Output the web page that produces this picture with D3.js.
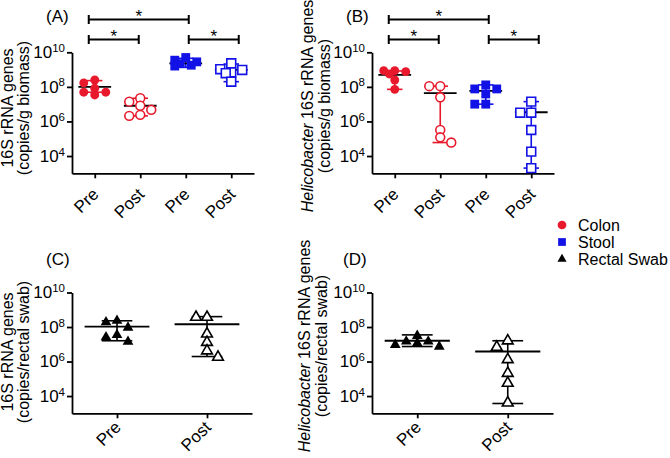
<!DOCTYPE html>
<html>
<head>
<meta charset="utf-8">
<script src="https://cdn.jsdelivr.net/npm/d3@7"></script>
<style>
  body { margin: 0; background: #fff; }
  svg { font-family: "Liberation Sans", Arial, sans-serif; }
</style>
</head>
<body>
<div id="plot"></div>
<script>
// ---------------- data ----------------
const catsAB = ["Pre", "Post", "Pre", "Post"];
const catsCD = ["Pre", "Post"];
const yTicks = [1e4, 1e6, 1e8, 1e10];

// (A) 16S rRNA, copies/g biomass
const aColonPre  = [2.5e8, 1.7e8, 8.3e7, 4.9e7, 4.9e7, 3.4e7];
const aColonPost = [2.2e7, 1.4e7, 8.1e6, 4.7e6, 2.4e6, 2.1e6];
const aStoolPre  = [5.0e9, 3.5e9, 2.8e9, 2.2e9, 1.8e9, 1.6e9];
const aStoolPost = [2.3e9, 1.05e9, 9.5e8, 6.9e8, 6.2e8, 2.0e8];
const aMedian = [1.0e8, 8.1e6, 2.3e9, 9.5e8];
const aLow    = [4.9e7, 2.1e6, 1.35e9, 2.0e8];
const aHigh   = [2.3e8, 2.2e7, 4.5e9, 2.1e9];

// (B) Helicobacter 16S rRNA, copies/g biomass
const bColonPre  = [8.7e8, 8.7e8, 7.6e8, 5.6e8, 2.5e8, 7.2e7];
const bColonPost = [1.1e8, 1.1e8, 2.5e7, 3.2e5, 1.2e5, 6.0e4];
const bStoolPre  = [1.3e8, 7.6e7, 7.6e7, 3.9e7, 1.0e7, 1.0e7];
const bStoolPost = [1.4e7, 3.2e6, 3.2e6, 3.2e5, 1.8e4, 2.0e3];
const bMedian = [4.9e8, 4.3e7, 5.8e7, 3.4e6];
const bLow    = [7.2e7, 6.0e4, 1.0e7, 2.0e3];
const bHigh   = [8.3e8, 1.1e8, 1.3e8, 1.4e7];

// (C) 16S rRNA, copies/rectal swab
const cSwabPre  = [2.3e8, 1.9e8, 9.3e7, 3.5e7, 2.6e7, 1.4e7];
const cSwabPost = [3.7e8, 3.7e8, 4.0e7, 1.3e7, 4.2e6, 1.8e6];
const cMedian = [1.05e8, 1.45e8];
const cLow    = [1.6e7, 1.95e6];
const cHigh   = [2.3e8, 4.0e8];

// (D) Helicobacter 16S rRNA, copies/rectal swab
const dSwabPre  = [3.1e7, 1.45e7, 1.45e7, 1.15e7, 9.3e6, 7.4e6];
const dSwabPost = [1.6e7, 6.8e6, 1.3e6, 2.1e5, 5.6e4, 4.0e3];
const dMedian = [1.6e7, 3.8e6];
const dLow    = [7.4e6, 3.7e3];
const dHigh   = [3.5e7, 1.6e7];

// significance brackets: [from, to] category index
const sigPairs = [[0, 2], [0, 1], [2, 3]];
const sigLevel = [0, 1, 1];

const RED = "#e8192c";
const BLUE = "#1212e6";

const svg = d3.select("#plot").append("svg")
  .attr("width", 670).attr("height", 458);

// small beeswarm: overlapping points get pushed sideways, alternating sides
function swarm(values, y, cx, gap, maxOff, minDist) {
  const placed = [];
  const sorted = values.slice().sort((a, b) => b - a);
  sorted.forEach(v => {
    const py = y(v);
    const left = placed.filter(p => p.x < cx).length;
    const right = placed.filter(p => p.x > cx).length;
    const s = right < left ? 1 : -1;
    const offsets = [0];
    for (let k = gap; k <= maxOff + 0.1; k += gap) offsets.push(s * k, -s * k);
    offsets.push(s * gap / 2, -s * gap / 2);
    let best = null, bestD = -1;
    for (const off of offsets) {
      const px = cx + off;
      const d = placed.length ? d3.min(placed, p => Math.hypot(p.x - px, p.y - py)) : Infinity;
      if (d >= minDist) { best = px; break; }
      if (d > bestD) { bestD = d; best = px; }
    }
    placed.push({x: best, y: py, v: v});
  });
  return placed;
}

function drawPanel(opt) {
  const y = d3.scaleLog().domain([1e3, 1e10]).range([opt.y1, opt.y0]);
  const x = d3.scalePoint().domain(d3.range(opt.cats.length))
    .range([opt.x0, opt.x1]).padding(0.5);
  const step = x.step();
  const g = svg.append("g");

  // y axis
  const ya = g.append("g")
    .attr("transform", "translate(" + opt.x0 + ",0)")
    .call(d3.axisLeft(y).tickValues(yTicks).tickSize(5).tickSizeOuter(0).tickPadding(2));
  ya.selectAll(".tick text").each(function(d) {
    const t = d3.select(this);
    t.text("");
    t.append("tspan").text("10");
    t.append("tspan").attr("dy", "-0.55em").attr("font-size", "11.5px")
      .text(Math.round(Math.log10(d)));
  });
  ya.selectAll("text").attr("font-size", "17px").attr("fill", "#000");

  // x axis
  const xa = g.append("g")
    .attr("transform", "translate(0," + opt.y1 + ")")
    .call(d3.axisBottom(x).tickSize(5).tickSizeOuter(0).tickFormat(""));
  xa.selectAll(".tick text").remove();
  g.selectAll(".domain, .tick line").attr("stroke", "#000").attr("stroke-width", 1.8);

  g.append("g").selectAll("text")
    .data(opt.cats)
    .enter()
    .append("text")
    .attr("transform", (d, i) => "translate(" + (x(i) + 5) + "," + (opt.y1 + opt.labelDrop) + ") rotate(-45)")
    .attr("text-anchor", "end")
    .attr("font-size", "17px")
    .text(d => d);

  // error bars + medians
  opt.groups.forEach((grp, i) => {
    const cx = x(i);
    const capW = step * 0.17, medW = step * 0.36;
    g.append("line").attr("x1", cx).attr("x2", cx)
      .attr("y1", y(opt.high[i])).attr("y2", y(opt.low[i]))
      .attr("stroke", grp.color).attr("stroke-width", 1.6);
    [opt.high[i], opt.low[i]].forEach(v => {
      g.append("line").attr("x1", cx - capW).attr("x2", cx + capW)
        .attr("y1", y(v)).attr("y2", y(v))
        .attr("stroke", grp.color).attr("stroke-width", 1.6);
    });
    g.append("line").attr("x1", cx - medW).attr("x2", cx + medW)
      .attr("y1", y(opt.median[i])).attr("y2", y(opt.median[i]))
      .attr("stroke", "#000").attr("stroke-width", 1.8);

    const pts = swarm(grp.values, y, cx, 11, step * 0.25, 7);
    const sym = d3.symbol().type(grp.shape)
      .size(grp.shape === d3.symbolCircle ? 62 : grp.shape === d3.symbolSquare ? 78 : 50);
    g.append("g").selectAll("path")
      .data(pts)
      .enter()
      .append("path")
      .attr("d", sym)
      .attr("transform", p => "translate(" + p.x + "," + p.y + ")")
      .attr("fill", grp.open ? "#fff" : grp.color)
      .attr("stroke", grp.color)
      .attr("stroke-width", grp.open ? 1.6 : 0);
  });

  // panel letter
  svg.append("text").attr("x", opt.labelX).attr("y", opt.labelY)
    .attr("font-size", "17px").text(opt.label);

  // y axis title (two lines)
  const t1 = svg.append("text")
    .attr("transform", "translate(" + opt.titleX[0] + "," + opt.titleY + ") rotate(-90)")
    .attr("text-anchor", "middle").attr("font-size", "16px");
  opt.title1.forEach(part => {
    t1.append("tspan").attr("font-style", part.italic ? "italic" : "normal").text(part.text);
  });
  svg.append("text")
    .attr("transform", "translate(" + opt.titleX[1] + "," + opt.titleY + ") rotate(-90)")
    .attr("text-anchor", "middle").attr("font-size", "16px")
    .text(opt.title2);

  // significance brackets
  if (opt.sig) {
    const bx = d3.scaleLinear().domain([0, 3]).range([x(0) - 6, x(0) - 6 + 150]);
    sigPairs.forEach((pr, k) => {
      const by = sigLevel[k] === 0 ? 19.5 : 39.5;
      const x1 = bx(pr[0]), x2 = bx(pr[1]);
      g.append("line").attr("x1", x1).attr("x2", x2).attr("y1", by).attr("y2", by)
        .attr("stroke", "#000").attr("stroke-width", 2);
      [x1, x2].forEach(xx => {
        g.append("line").attr("x1", xx).attr("x2", xx).attr("y1", by - 4.5).attr("y2", by + 4.5)
          .attr("stroke", "#000").attr("stroke-width", 2);
      });
      g.append("text").attr("x", (x1 + x2) / 2).attr("y", by + 2)
        .attr("text-anchor", "middle").attr("font-size", "17px").text("*");
    });
  }
}

drawPanel({
  label: "(A)", labelX: 46, labelY: 22,
  x0: 72, x1: 254, y0: 52.3, y1: 173.3, cats: catsAB, labelDrop: 22,
  groups: [
    {values: aColonPre, color: RED, shape: d3.symbolCircle, open: false},
    {values: aColonPost, color: RED, shape: d3.symbolCircle, open: true},
    {values: aStoolPre, color: BLUE, shape: d3.symbolSquare, open: false},
    {values: aStoolPost, color: BLUE, shape: d3.symbolSquare, open: true}
  ],
  median: aMedian, low: aLow, high: aHigh,
  title1: [{text: "16S rRNA genes"}], title2: "(copies/g biomass)",
  titleX: [13, 29], titleY: 108, sig: true
});

drawPanel({
  label: "(B)", labelX: 346, labelY: 22,
  x0: 372, x1: 554, y0: 52.3, y1: 173.3, cats: catsAB, labelDrop: 22,
  groups: [
    {values: bColonPre, color: RED, shape: d3.symbolCircle, open: false},
    {values: bColonPost, color: RED, shape: d3.symbolCircle, open: true},
    {values: bStoolPre, color: BLUE, shape: d3.symbolSquare, open: false},
    {values: bStoolPost, color: BLUE, shape: d3.symbolSquare, open: true}
  ],
  median: bMedian, low: bLow, high: bHigh,
  title1: [{text: "Helicobacter", italic: true}, {text: " 16S rRNA genes"}], title2: "(copies/g biomass)",
  titleX: [313, 330], titleY: 106, sig: true
});

drawPanel({
  label: "(C)", labelX: 46, labelY: 265,
  x0: 72, x1: 252, y0: 292.5, y1: 413.3, cats: catsCD, labelDrop: 15,
  groups: [
    {values: cSwabPre, color: "#000", shape: d3.symbolTriangle, open: false},
    {values: cSwabPost, color: "#000", shape: d3.symbolTriangle, open: true}
  ],
  median: cMedian, low: cLow, high: cHigh,
  title1: [{text: "16S rRNA genes"}], title2: "(copies/rectal swab)",
  titleX: [13, 29], titleY: 352, sig: false
});

drawPanel({
  label: "(D)", labelX: 343, labelY: 265,
  x0: 372, x1: 553, y0: 292.5, y1: 413.3, cats: catsCD, labelDrop: 15,
  groups: [
    {values: dSwabPre, color: "#000", shape: d3.symbolTriangle, open: false},
    {values: dSwabPost, color: "#000", shape: d3.symbolTriangle, open: true}
  ],
  median: dMedian, low: dLow, high: dHigh,
  title1: [{text: "Helicobacter", italic: true}, {text: " 16S rRNA genes"}], title2: "(copies/rectal swab)",
  titleX: [310, 327], titleY: 346, sig: false
});

// legend
const legendNames = ["Colon", "Stool", "Rectal Swab"];
const legendColors = [RED, BLUE, "#000"];
const legendShapes = [d3.symbolCircle, d3.symbolSquare, d3.symbolTriangle];
const legend = svg.append("g").attr("transform", "translate(562,225)");
legendNames.forEach((name, i) => {
  legend.append("path")
    .attr("d", d3.symbol().type(legendShapes[i]).size(i === 2 ? 36 : 60))
    .attr("transform", "translate(0," + i * 17 + ")")
    .attr("fill", legendColors[i]);
  legend.append("text").attr("x", 16).attr("y", i * 17 + 6)
    .attr("font-size", "16px").text(name);
});
</script>
</body>
</html>
